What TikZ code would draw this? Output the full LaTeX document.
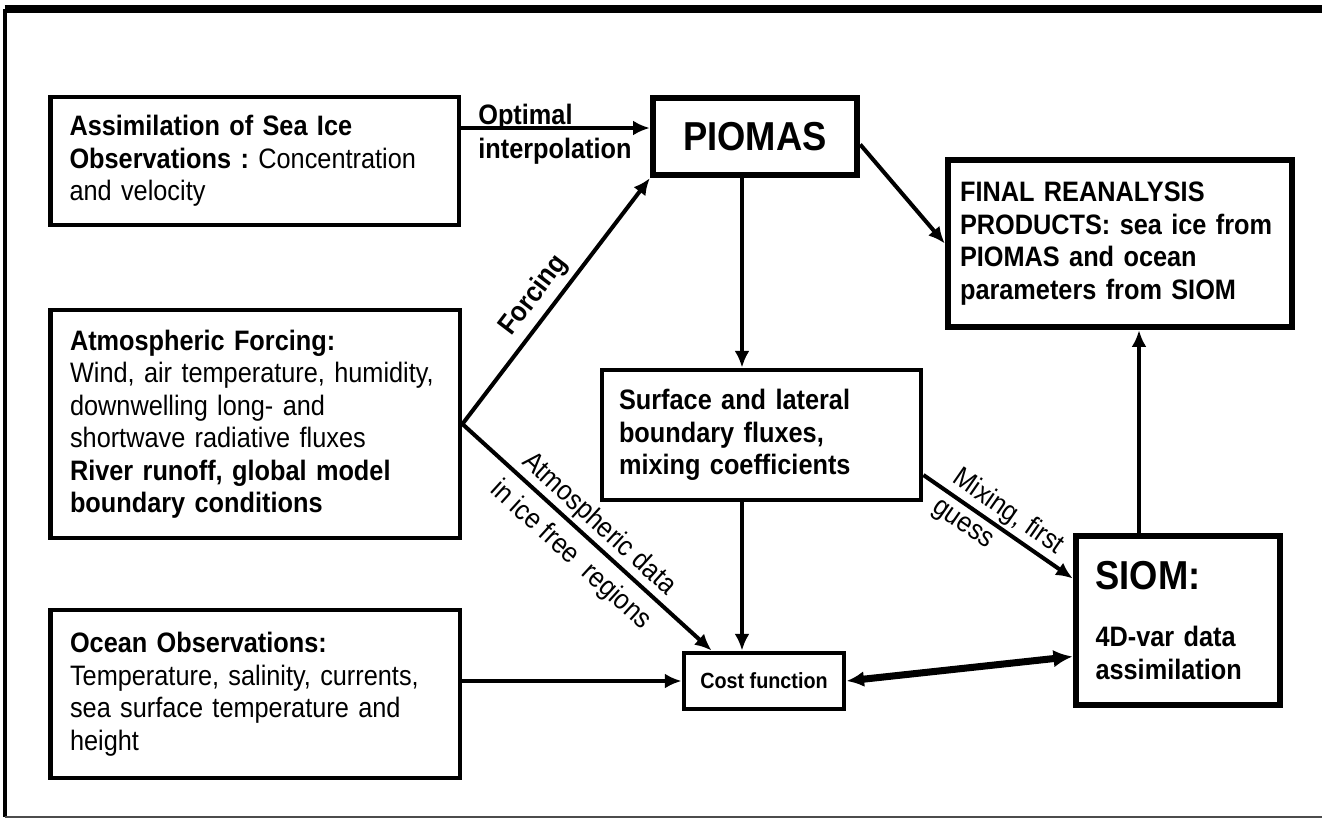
\documentclass[tikz,border=0pt]{standalone}
\usepackage{fontspec}
\setmainfont[FakeStretch=0.9]{Liberation Sans}
\usepackage{tikz}
\usetikzlibrary{positioning, arrows.meta, calc}

\begin{document}
\frenchspacing
\begin{tikzpicture}[
    x=0.02cm, y=-0.02cm,
    body/.style={font=\fontsize{16}{18.5}\selectfont},
    bold/.style={font=\fontsize{16}{18.5}\selectfont\bfseries},
    box/.style={draw, line width=2.8pt, inner xsep=0pt, inner ysep=0pt, align=left, body},
    bigbox/.style={box, line width=3.7pt},
    arr/.style={draw, line width=2.3pt, -{Latex[length=9.5pt, width=8.5pt]}}
]
\useasboundingbox (0,0) rectangle (1322,819);
% frame round the figure
\draw[line width=4.4pt] (4.7,8.8) -- (1322,8.8);
\draw[line width=2.3pt] (4.7,8.8) -- (4.7,817);
\draw[line width=1.1pt, black!70] (4.7,817) -- (1322,817);

% inputs on the left
\node[box, minimum width=8.18cm, minimum height=2.56cm, text width=7.4cm] (seaice) at (254.5,161)
    {\textbf{Assimilation of Sea Ice}\\\textbf{Observations :} Concentration\\and velocity};
\node[box, minimum width=8.2cm, minimum height=4.56cm, text width=7.4cm] (atmos) at (255,424)
    {\textbf{Atmospheric Forcing:}\\Wind, air temperature, humidity,\\downwelling long- and\\shortwave radiative fluxes\\\textbf{River runoff, global model}\\\textbf{boundary conditions}};
\node[box, minimum width=8.2cm, minimum height=3.36cm, text width=7.4cm] (ocean) at (255,694)
    {\textbf{Ocean Observations:}\\Temperature, salinity, currents,\\sea surface temperature and\\height};

% models and products
\node[bigbox, minimum width=4.08cm, minimum height=1.54cm, align=center, font=\fontsize{23}{27}\selectfont\bfseries] (piomas) at (755,136.5) {PIOMAS};
\node[box, bold, minimum width=6.38cm, minimum height=2.6cm, text width=5.7cm] (surf) at (761.5,435)
    {Surface and lateral\\boundary fluxes,\\mixing coefficients};
\node[box, minimum width=3.2cm, minimum height=1.12cm, align=center, font=\fontsize{12.5}{15}\selectfont\bfseries] (cost) at (764,681) {Cost function};
\node[bigbox, bold, minimum width=6.88cm, minimum height=3.34cm, text width=6.4cm] (final) at (1120,243.5)
    {FINAL REANALYSIS\\PRODUCTS: sea ice from\\PIOMAS and ocean\\parameters from SIOM};
\node[bigbox, bold, minimum width=4.08cm, minimum height=3.38cm, text width=3.3cm] (siom) at (1178,620.5)
    {{\fontsize{23}{27}\selectfont SIOM:}\\[14pt]4D-var data\\assimilation};

% connectors
\coordinate (opty) at (0,128);
\coordinate (colx) at (742,0);
\coordinate (upx) at (1139,0);
\draw[arr] (seaice.east |- opty) -- (piomas.west |- opty);
\node[bold, anchor=west, align=left, inner sep=0pt, font=\fontsize{16}{19.5}\selectfont\bfseries] (optlbl) at (478,134) {Optimal\\interpolation};
\draw[arr] (atmos.east) -- node[bold, sloped, above, pos=0.47] {Forcing} (piomas.south west);
\draw[arr] (atmos.east) -- node[sloped, align=center, inner sep=0pt, font=\fontsize{16}{24}\selectfont, yshift=-2pt] {Atmospheric data\\in ice free\ \ regions} ($(cost.north west)+(30,0)$);
\draw[arr] (piomas.south -| colx) -- (surf.north -| colx);
\draw[arr] (surf.south -| colx) -- (cost.north -| colx);
\draw[arr] ($(piomas.east)+(0,8)$) -- (final.west);
\draw[arr] ($(surf.east)+(0,40)$) -- node[sloped, align=left, inner sep=0pt, font=\fontsize{16}{20}\selectfont] {Mixing, first\\guess} ($(siom.west)+(0,-42)$);
\draw[arr] (ocean.east |- cost.west) -- (cost.west);
\draw[line width=4pt, {Latex[length=10pt, width=9pt]}-{Latex[length=11pt, width=10pt]}] (cost.east) -- ($(siom.west)+(0,36)$);
\draw[arr] (siom.north -| upx) -- (final.south -| upx);
\end{tikzpicture}
\end{document}
